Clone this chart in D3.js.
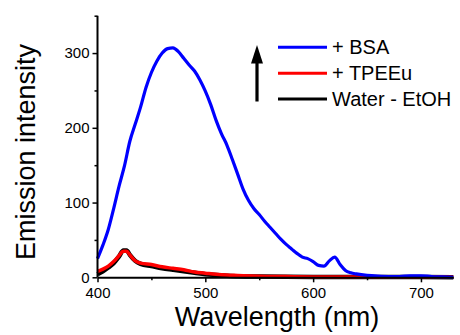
<!DOCTYPE html>
<html>
<head>
<meta charset="utf-8">
<script src="https://cdn.jsdelivr.net/npm/d3@7"></script>
<style>
  html, body { margin: 0; padding: 0; background: #fff; }
  svg { display: block; font-family: "Liberation Sans", Arial, sans-serif; }
</style>
</head>
<body>
<svg id="chart" width="460" height="335"></svg>
<script>
// Emission spectra: wavelength (nm) and intensity for each sample
const bsaWavelength = [400, 405, 410, 415, 420, 425, 430, 435, 440, 445, 450, 455, 460, 465, 470, 475, 480, 485, 490, 495, 500, 505, 510, 515, 520, 525, 530, 535, 540, 545, 550, 555, 560, 565, 570, 575, 580, 585, 590, 595, 600, 605, 610, 615, 620, 625, 630, 635, 640, 650, 660, 670, 680, 690, 700, 710, 720, 730];
const bsaIntensity  = [25, 43, 64, 92, 122, 149, 182, 205, 228, 254, 274, 289, 300, 306, 307, 302, 293, 284, 276, 264, 249, 231, 210, 192, 177, 158, 138, 118, 103, 92, 84, 75, 67, 59, 51, 44, 38, 32, 27, 25, 21, 16, 15, 22, 27, 17, 9, 6, 4.5, 2.5, 1.5, 1, 1, 2, 2, 1, 0.5, 0];

const tpeeuWavelength = [400, 405, 410, 415, 420, 424, 427, 430, 435, 440, 450, 460, 470, 480, 490, 500, 510, 520, 530, 550, 575, 600, 650, 700, 730];
const tpeeuIntensity  = [8, 11, 15, 21, 29, 35, 35, 30, 22, 19, 17, 14, 12, 10, 7, 5.5, 4, 3, 2.5, 1.5, 1, 0.5, 0.3, 0.3, 0];

const waterWavelength = [400, 405, 410, 415, 420, 424, 427, 430, 435, 440, 450, 460, 470, 480, 490, 500, 510, 520, 530, 550, 600, 700, 730];
const waterIntensity  = [4, 8, 13, 19, 28, 36, 36, 30, 22, 18, 15, 12, 10, 8, 6, 4, 3, 2, 1.5, 1, 0.5, 0.3, 0];

const legendLabels = ["+ BSA", "+ TPEEu", "Water - EtOH"];
const legendColors = ["#0000ff", "#ff0000", "#000000"];

const xMajorTicks = [400, 500, 600, 700];
const xMinorTicks = [450, 550, 650];
const yMajorTicks = [0, 100, 200, 300];
const yMinorTicks = [50, 150, 250, 350];

const svg = d3.select("#chart");

const x = d3.scaleLinear().domain([400, 730]).range([97.5, 453.3]);
const y = d3.scaleLinear().domain([0, 350]).range([277.3, 15.7]);

const line = d3.line()
  .x(d => x(d[0]))
  .y(d => y(d[1]))
  .curve(d3.curveMonotoneX);

const zip = (a, b) => a.map((v, i) => [v, b[i]]);

const plot = svg.append("g");
plot.append("path").datum(zip(waterWavelength, waterIntensity))
  .attr("d", line).attr("fill", "none").attr("stroke", "#000").attr("stroke-width", 4.5).attr("stroke-linejoin", "round");
plot.append("path").datum(zip(tpeeuWavelength, tpeeuIntensity))
  .attr("d", line).attr("fill", "none").attr("stroke", "#ff0000").attr("stroke-width", 3.5).attr("stroke-linejoin", "round");
plot.append("path").datum(zip(bsaWavelength, bsaIntensity))
  .attr("d", line).attr("fill", "none").attr("stroke", "#0000ff").attr("stroke-width", 3.2).attr("stroke-linejoin", "round");

// Axes: major ticks with labels, minor ticks without
function styleAxis(g) {
  g.select(".domain").attr("stroke", "#000").attr("stroke-width", 2);
  g.selectAll(".tick line").attr("stroke", "#000").attr("stroke-width", 1.5);
  g.selectAll("text").attr("fill", "#000").style("font-size", "15px")
    .style("font-family", "'Liberation Sans', Arial, sans-serif");
}

const xAxis = svg.append("g").attr("transform", `translate(0,${y(0)})`)
  .call(d3.axisBottom(x).tickValues(xMajorTicks).tickSize(5).tickPadding(5).tickSizeOuter(0).tickFormat(d3.format("d")));
styleAxis(xAxis);
const xMinor = svg.append("g").attr("transform", `translate(0,${y(0)})`)
  .call(d3.axisBottom(x).tickValues(xMinorTicks).tickSize(3).tickFormat("").tickSizeOuter(0));
styleAxis(xMinor);
xMinor.select(".domain").remove();

const yAxis = svg.append("g").attr("transform", `translate(${x(400)},0)`)
  .call(d3.axisLeft(y).tickValues(yMajorTicks).tickSize(5).tickPadding(3).tickSizeOuter(0).tickFormat(d3.format("d")));
styleAxis(yAxis);
yAxis.select(".domain").attr("d", `M0,${y(0)}V${y(350)}`);
const yMinor = svg.append("g").attr("transform", `translate(${x(400)},0)`)
  .call(d3.axisLeft(y).tickValues(yMinorTicks).tickSize(3).tickFormat("").tickSizeOuter(0));
styleAxis(yMinor);
yMinor.select(".domain").remove();

// Axis titles
svg.append("text")
  .attr("x", 277).attr("y", 326)
  .attr("text-anchor", "middle")
  .style("font-size", "27px").attr("fill", "#000")
  .text("Wavelength (nm)");

svg.append("text")
  .attr("transform", "translate(34.5,152) rotate(-90)")
  .attr("text-anchor", "middle")
  .style("font-size", "27px").attr("fill", "#000")
  .text("Emission intensity");

// Legend
const legend = svg.append("g");
legendLabels.forEach((label, i) => {
  const ly = 47.3 + i * 25.9;
  legend.append("line")
    .attr("x1", 278).attr("x2", 327).attr("y1", ly).attr("y2", ly)
    .attr("stroke", legendColors[i]).attr("stroke-width", 3);
  legend.append("text")
    .attr("x", 332).attr("y", ly + 7)
    .style("font-size", "20px").attr("fill", "#000")
    .text(label);
});

// Upward arrow beside the legend
legend.append("line")
  .attr("x1", 257).attr("x2", 257).attr("y1", 101.5).attr("y2", 60)
  .attr("stroke", "#000").attr("stroke-width", 3.2);
legend.append("path")
  .attr("d", "M251,63.5L257,45L263,63.5Z")
  .attr("fill", "#000");
</script>
</body>
</html>
